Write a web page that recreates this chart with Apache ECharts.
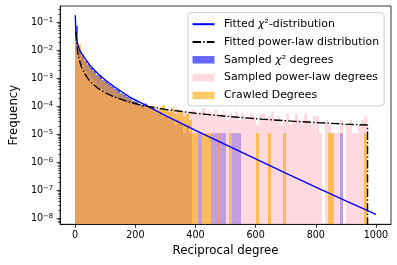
<!DOCTYPE html>
<html><head><meta charset="utf-8">
<script src="https://cdn.jsdelivr.net/npm/echarts@6/dist/echarts.min.js"></script>
<style>html,body{margin:0;padding:0;background:#fff}#c{width:397px;height:265px}</style>
</head><body><div id="c"></div>
<script>
// ---------- data ----------
const binEdges = [0,10,20,30,40,50,60,70,80,90,100,110,120,130,140,150,160,170,180,190,
  200,210,220,230,240,250,260,270,280,290,300,310,320,330,340,350,360,370,380,390,
  400,410,420,430,440,450,460,470,480,490,500,510,520,530,540,550,560,570,580,590,
  600,610,620,630,640,650,660,670,680,690,700,710,720,730,740,750,760,770,780,790,
  800,810,820,830,840,850,860,870,880,890,900,910,920,930,940,950,960,970];

const chiSampled = [0.075,0.011,0.0062,0.0042,0.0031,0.0024,0.0018,0.0013,0.0012,0.00085,
  0.00078,0.00062,0.00052,0.00042,0.00038,0.00029,0.00026,0.00022,0.00019,0.00016,
  0.00015,0.00012,0.00011,0.000125,0.000085,0.00008,0.000066,0.000055,0.00006,0.000042,
  0.000044,0.000033,0.000033,0.000022,0.000033,0.000022,0.000011,0.000022,0.000011,null,
  null,0.000011,null,null,null,0.000011,0.000011,0.000011,0.000011,0.000011,
  null,null,0.000011,0.000011,0.000011,null,null,null,null,null,
  null,null,null,null,null,null,null,null,null,null,
  null,null,null,null,null,null,null,null,null,null,
  null,null,null,null,null,null,null,null,0.000011,null,
  null,null,null,null,null,null,null];

const powerSampled = [0.035,0.0055,0.003,0.0018,0.0012,0.00095,0.0007,0.00052,0.00045,0.00038,
  0.00031,0.00028,0.00025,0.0002,0.00019,0.00016,0.00015,0.00013,0.00012,0.000115,
  0.0001,0.000105,0.000088,0.000095,0.000077,0.000088,0.000077,0.000066,0.000088,0.000077,
  0.000066,0.000077,0.000088,0.000066,0.000055,0.000077,0.000066,0.000055,0.000066,0.000077,
  0.000055,0.000066,0.000088,0.000044,0.000066,0.000055,0.000077,0.000044,0.000055,0.000066,
  0.000033,0.000055,0.000044,0.000066,0.000033,0.000055,0.000044,0.000033,0.000055,0.000044,
  0.000022,0.000055,0.000055,0.000033,0.000044,0.000066,0.000033,0.000044,0.000022,0.000033,
  0.000055,0.000022,0.000033,0.000055,0.000033,0.000022,0.000055,0.000033,0.000022,0.000044,
  0.000044,0.000011,null,0.000033,0.000022,0.000011,0.000011,0.000011,0.000033,null,
  0.000022,0.000033,0.000011,0.000011,0.000022,0.000033,0.000044];

const crawled = [0.04,0.016,0.0075,0.0042,0.003,0.0021,0.0016,0.0012,0.00095,0.0008,
  0.00065,0.00055,0.00045,0.00038,0.0003,0.00027,0.00022,0.0002,0.00017,0.00015,
  0.00013,0.00012,0.0001,0.000105,0.000095,0.000088,0.000099,0.000077,0.000088,0.00011,
  0.000077,0.000066,0.000088,0.000055,0.000077,0.000066,0.000044,0.000055,0.000033,0.000011,
  0.000011,null,0.000011,0.000011,0.000011,null,null,0.000011,null,null,
  null,0.000011,null,null,null,null,null,null,null,null,
  0.000011,null,null,null,0.000011,null,null,null,null,0.000011,
  null,null,null,null,null,null,null,null,null,null,
  null,null,null,null,0.000011,0.000011,null,null,null,null,
  null,null,null,null,null,null,0.000011];

const chiFitX = [0.5,2,4,7.5,15,30,50,75,100,130,180,250,300,400,500,600,700,800,900,1000];
const chiFitY = [0.18,0.056,0.032,0.018,0.01,0.0056,0.0028,0.00148,0.00087,0.0005,
  0.000219,0.0000891,0.0000468,0.0000138,4.27e-6,1.32e-6,4.07e-7,1.29e-7,4.17e-8,1.38e-8];

const powFitX = [2.5,5,8,12,20,30,45,60,75,100,130,175,225,300,400,500,620,720,812,900,972,972];
const powFitY = [0.0447,0.0174,0.00933,0.00537,0.00268,0.00155,0.000895,0.000607,0.000449,0.000304,
  0.000216,0.000147,0.000106,0.0000773,0.0000564,0.0000441,0.0000348,0.0000295,0.0000259,0.0000231,
  0.0000214,1e-12];

const xTicks = [0,200,400,600,800,1000];
const yTicks = [1e-8,1e-7,1e-6,1e-5,1e-4,1e-3,1e-2,1e-1];

const names = ['Fitted χ²-distribution','Fitted power-law distribution','Sampled χ² degrees','Sampled power-law degrees','Crawled Degrees'];

// ---------- chart ----------
const FONT = 'DejaVu Sans';
const Y_MIN = 6.11e-9, Y_MAX = 0.382;
const minorTicks = [];
[1e-9,1e-8,1e-7,1e-6,1e-5,1e-4,1e-3,1e-2,1e-1].forEach(d => {
  for (let k = 2; k <= 9; k++) { const v = d * k; if (v > Y_MIN && v < Y_MAX) minorTicks.push(v); }
});

function hist(name, values, color) {
  const data = [];
  values.forEach((v, i) => { if (v != null) data.push([binEdges[i], binEdges[i + 1], v]); });
  return {
    type: 'custom', name, data, encode: { x: [0, 1], y: 2 },
    itemStyle: { color }, silent: true,
    renderItem(params, api) {
      const a = api.coord([api.value(0), api.value(2)]);
      const b = api.coord([api.value(1), Y_MIN]);
      const x0 = Math.round(a[0]), x1 = Math.round(b[0]);
      return { type: 'rect', shape: { x: x0, y: a[1], width: x1 - x0, height: b[1] - a[1] },
               style: { fill: color } };
    }
  };
}

const chart = echarts.init(document.getElementById('c'), null, { renderer: 'canvas' });
chart.setOption({
  animation: false,
  backgroundColor: '#fff',
  grid: { left: 56, top: 6, width: 335, height: 218.3, show: true, borderColor: '#000', borderWidth: 0.8, backgroundColor: 'transparent' },
  xAxis: {
    type: 'value', min: -50, max: 1050, z: 10,
    axisLine: { show: true, onZero: false, lineStyle: { color: '#000', width: 0.8 } },
    axisTick: { show: true, customValues: xTicks, length: 3.5, lineStyle: { color: '#000', width: 0.8 } },
    axisLabel: { customValues: xTicks, margin: 6, fontSize: 9.6, fontFamily: FONT, color: '#000', formatter: v => String(v) },
    splitLine: { show: false },
    name: 'Reciprocal degree', nameLocation: 'middle', nameGap: 20,
    nameTextStyle: { fontSize: 11.8, fontFamily: FONT, color: '#000' }
  },
  yAxis: [{
    type: 'log', logBase: 10, min: Y_MIN, max: Y_MAX, z: 10,
    axisLine: { show: true, onZero: false, lineStyle: { color: '#000', width: 0.8 } },
    axisTick: { show: true, customValues: yTicks, length: 3.5, lineStyle: { color: '#000', width: 0.8 } },
    axisLabel: {
      customValues: yTicks, margin: 7,
      formatter: v => '{b|10}{e|−' + (-Math.round(Math.log10(v))) + '}',
      rich: {
        b: { fontSize: 9.6, fontFamily: FONT, color: '#000' },
        e: { fontSize: 6.8, fontFamily: FONT, color: '#000', verticalAlign: 'top', padding: [0, 0, 5, 0] }
      }
    },
    splitLine: { show: false },
    name: 'Frequency', nameLocation: 'middle', nameGap: 36,
    nameTextStyle: { fontSize: 11.8, fontFamily: FONT, color: '#000' }
  }, {
    type: 'log', logBase: 10, min: Y_MIN, max: Y_MAX, position: 'left', z: 10,
    axisLine: { show: false, onZero: false },
    axisTick: { show: true, customValues: minorTicks, length: 2, lineStyle: { color: '#000', width: 0.6 } },
    axisLabel: { show: false },
    splitLine: { show: false }
  }],
  legend: {
    orient: 'vertical', left: 188, top: 12.7,
    padding: [5, 5, 4, 3.5],
    itemWidth: 22, itemHeight: 7.5, itemGap: 4.8,
    backgroundColor: 'rgba(255,255,255,0.8)', borderColor: '#cccccc', borderWidth: 1, borderRadius: 3,
    selectedMode: false,
    formatter: n => n.replace('χ', '{i|χ}'),
    textStyle: { fontFamily: FONT, fontSize: 10.9, color: '#000', lineHeight: 13, padding: [0, 0, 0, 4.5],
      rich: { i: { fontFamily: FONT, fontSize: 10.9, fontStyle: 'italic', color: '#000' } } },
    data: [
      { name: names[0], itemStyle: { opacity: 0 } }, { name: names[1], itemStyle: { opacity: 0 } },
      { name: names[2], icon: 'rect' }, { name: names[3], icon: 'rect' }, { name: names[4], icon: 'rect' }
    ]
  },
  series: [
    hist(names[2], chiSampled, 'rgba(0,0,255,0.6)'),
    hist(names[3], powerSampled, 'rgba(255,192,203,0.6)'),
    hist(names[4], crawled, 'rgba(255,165,0,0.6)'),
    { type: 'line', name: names[0], data: chiFitX.map((x, i) => [x, chiFitY[i]]),
      symbol: 'none', showSymbol: false, silent: true, z: 3,
      itemStyle: { color: '#0000ff' }, lineStyle: { color: '#0000ff', width: 1.4 } },
    { type: 'line', name: names[1], data: powFitX.map((x, i) => [x, powFitY[i]]),
      symbol: 'none', showSymbol: false, silent: true, z: 3,
      itemStyle: { color: '#000' }, lineStyle: { color: '#000', width: 1.4, type: [8.5, 2.2, 1.4, 2.2] } }
  ]
});
</script></body></html>
